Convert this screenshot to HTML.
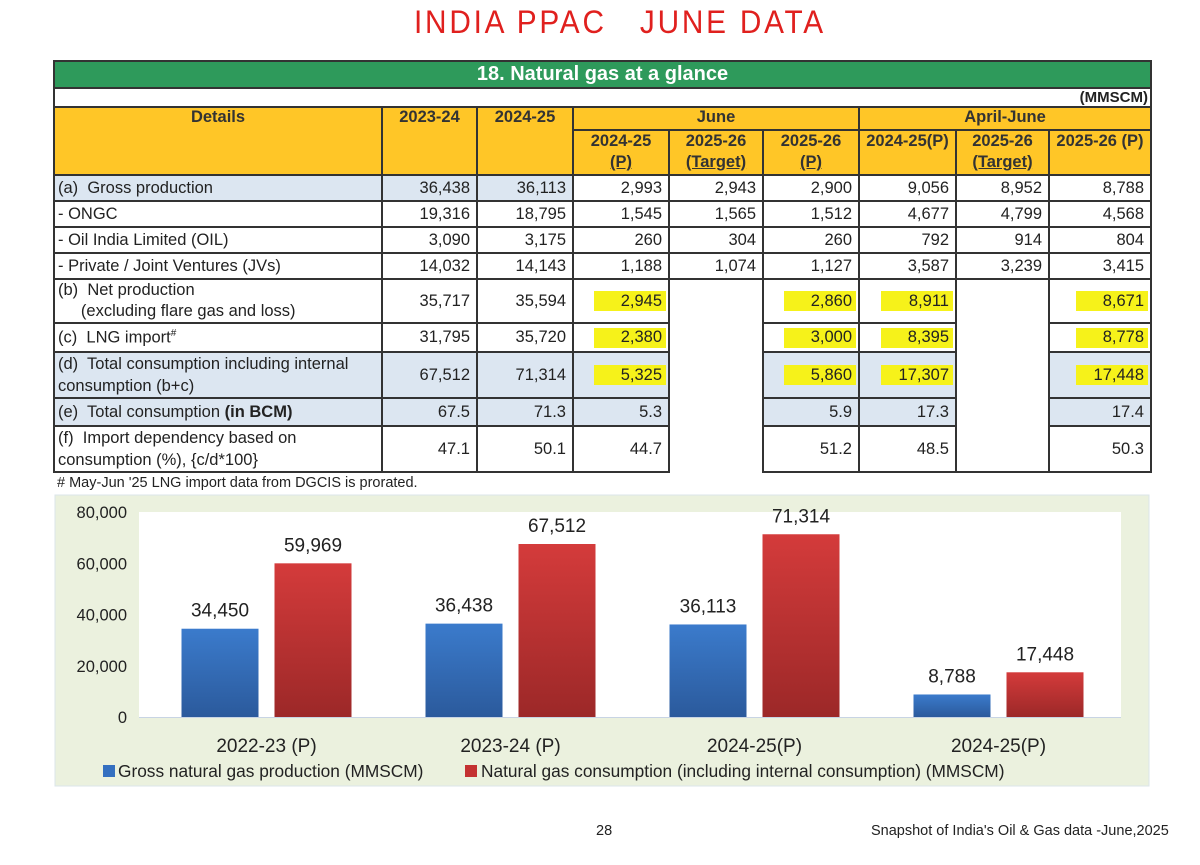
<!DOCTYPE html>
<html><head><meta charset="utf-8">
<style>
body{margin:0;width:1200px;height:865px;background:#fff;position:relative;overflow:hidden;font-family:"Liberation Sans",sans-serif;color:#222}
.hw{position:absolute;left:414px;top:4px;font-size:32px;color:#e0201e;letter-spacing:3px;font-weight:normal;transform:scaleX(0.93);transform-origin:left}
table{position:absolute;left:53px;top:60px;border-collapse:separate;border-spacing:0;table-layout:fixed;font-size:16.5px;border-left:2px solid #333;border-top:2px solid #333}
td{border-right:2px solid #333;border-bottom:2px solid #333;padding:0 6px;text-align:right;overflow:hidden;white-space:nowrap;box-sizing:border-box}
td.l{text-align:left;padding-left:3px}
.h{background:#ffc627;font-weight:bold;text-align:center;vertical-align:top;color:#333}
.sb{background:#dce6f1}
.nb{border-bottom:none}
.hl{background:linear-gradient(#f6f21a,#f6f21a) no-repeat right 2px center/72px 20px}
.hl.sb{background:#dce6f1 linear-gradient(#f6f21a,#f6f21a) no-repeat right 2px center/72px 20px}
.foot{position:absolute;font-size:14.5px;color:#222}
</style></head><body>
<div class="hw">INDIA PPAC &nbsp; JUNE DATA</div>
<table>
<colgroup><col style="width:328px"><col style="width:95px"><col style="width:96px"><col style="width:96px"><col style="width:94px"><col style="width:96px"><col style="width:97px"><col style="width:93px"><col style="width:102px"></colgroup>
<tr style="height:27px"><td colspan="9" style="background:#2e9a5b;color:#fff;font-weight:bold;font-size:20px;text-align:center">18. Natural gas at a glance</td></tr>
<tr style="height:18px"><td colspan="9" style="font-weight:bold;font-size:15px;vertical-align:bottom;padding-right:2px">(MMSCM)</td></tr>
<tr style="height:23px"><td class="h" rowspan="2">Details</td><td class="h" rowspan="2">2023-24</td><td class="h" rowspan="2">2024-25</td><td class="h" colspan="3">June</td><td class="h" colspan="3">April-June</td></tr>
<tr style="height:45px;line-height:21px"><td class="h">2024-25<br><u>(P)</u></td><td class="h">2025-26<br><u>(Target)</u></td><td class="h">2025-26<br><u>(P)</u></td><td class="h">2024-25(P)</td><td class="h">2025-26<br><u>(Target)</u></td><td class="h">2025-26 (P)</td></tr>
<tr style="height:26px"><td class="l sb">(a)&nbsp; Gross production</td><td class="sb">36,438</td><td class="sb">36,113</td><td>2,993</td><td>2,943</td><td>2,900</td><td>9,056</td><td>8,952</td><td>8,788</td></tr>
<tr style="height:26px"><td class="l">- ONGC</td><td>19,316</td><td>18,795</td><td>1,545</td><td>1,565</td><td>1,512</td><td>4,677</td><td>4,799</td><td>4,568</td></tr>
<tr style="height:26px"><td class="l">- Oil India Limited (OIL)</td><td>3,090</td><td>3,175</td><td>260</td><td>304</td><td>260</td><td>792</td><td>914</td><td>804</td></tr>
<tr style="height:26px"><td class="l">- Private / Joint Ventures (JVs)</td><td>14,032</td><td>14,143</td><td>1,188</td><td>1,074</td><td>1,127</td><td>3,587</td><td>3,239</td><td>3,415</td></tr>
<tr style="height:43px;line-height:21px"><td class="l">(b)&nbsp; Net production<br>&nbsp;&nbsp;&nbsp;&nbsp;&nbsp;(excluding flare gas and loss)</td><td>35,717</td><td>35,594</td><td class="hl">2,945</td><td class="nb"></td><td class="hl">2,860</td><td class="hl">8,911</td><td class="nb"></td><td class="hl">8,671</td></tr>
<tr style="height:29px"><td class="l">(c)&nbsp; LNG import<sup style="font-size:10px">#</sup></td><td>31,795</td><td>35,720</td><td class="hl">2,380</td><td class="nb"></td><td class="hl">3,000</td><td class="hl">8,395</td><td class="nb"></td><td class="hl">8,778</td></tr>
<tr style="height:46px;line-height:22px"><td class="l sb">(d)&nbsp; Total consumption including internal<br>consumption (b+c)</td><td class="sb">67,512</td><td class="sb">71,314</td><td class="sb hl">5,325</td><td class="nb"></td><td class="sb hl">5,860</td><td class="sb hl">17,307</td><td class="nb"></td><td class="sb hl">17,448</td></tr>
<tr style="height:28px"><td class="l sb">(e)&nbsp; Total consumption <b>(in BCM)</b></td><td class="sb">67.5</td><td class="sb">71.3</td><td class="sb">5.3</td><td class="nb"></td><td class="sb">5.9</td><td class="sb">17.3</td><td class="nb"></td><td class="sb">17.4</td></tr>
<tr style="height:46px;line-height:22px"><td class="l">(f)&nbsp; Import dependency based on<br>consumption (%), {c/d*100}</td><td>47.1</td><td>50.1</td><td>44.7</td><td class="nb"></td><td>51.2</td><td>48.5</td><td></td><td>50.3</td></tr>
</table>
<div class="foot" style="left:57px;top:475px"># May-Jun '25 LNG import data from DGCIS is prorated.</div>
<svg style="position:absolute;left:0;top:0" width="1200" height="865">
<defs>
<linearGradient id="gb" x1="0" y1="0" x2="0" y2="1"><stop offset="0" stop-color="#3b7bcc"/><stop offset="1" stop-color="#2b5a9c"/></linearGradient>
<linearGradient id="gr" x1="0" y1="0" x2="0" y2="1"><stop offset="0" stop-color="#d43b3b"/><stop offset="1" stop-color="#9c2828"/></linearGradient>
</defs>
<rect x="55" y="495" width="1094" height="291" fill="#ebf1de" stroke="#dbe5ea"/>
<rect x="139" y="512" width="982" height="205" fill="#fff"/>
<line x1="139" y1="717.5" x2="1121" y2="717.5" stroke="#c8d4e4"/>
<g id="g" font-family="Liberation Sans, sans-serif"></g>
<rect x="103" y="765" width="12" height="12" fill="#3470c0"/>
<text x="118" y="777" font-size="17.3" fill="#222" font-family="Liberation Sans, sans-serif">Gross natural gas production (MMSCM)</text>
<rect x="465" y="765" width="12" height="12" fill="#c43232"/>
<text x="481" y="777" font-size="17.3" fill="#222" font-family="Liberation Sans, sans-serif">Natural gas consumption (including internal consumption) (MMSCM)</text>
</svg>
<div class="foot" style="left:596px;top:823px">28</div>
<div class="foot" style="left:871px;top:823px">Snapshot of India's Oil &amp; Gas data -June,2025</div>
<script>
const categories=["2022-23 (P)","2023-24 (P)","2024-25(P)","2024-25(P)"];
const production=[34450,36438,36113,8788];
const consumption=[59969,67512,71314,17448];
const yTicks=[0,20000,40000,60000,80000];
const NS="http://www.w3.org/2000/svg";
const g=document.getElementById('g');
const y=v=>717-v/80000*205;
const x0=144.5,step=244;
const fmt=v=>v.toLocaleString('en-US');
function mk(t,a,txt){const e=document.createElementNS(NS,t);for(const k in a)e.setAttribute(k,a[k]);if(txt!=null)e.textContent=txt;g.appendChild(e);return e;}
yTicks.forEach(t=>{
 const e=mk('text',{x:127,y:y(t)+6,'text-anchor':'end','font-size':16.5,fill:'#222'},fmt(t));
 
 
});
categories.forEach((c,i)=>{
 const cx=x0+step*i+step/2;
 const e=mk('text',{x:cx,y:752,'text-anchor':'middle','font-size':19,fill:'#222'},c);
 
 
 [[production[i],'url(#gb)',cx-85],[consumption[i],'url(#gr)',cx+8]].forEach(([v,f,bx],j)=>{
  const b=mk('rect',{x:bx,y:y(v),width:77,height:717-y(v),fill:f});
  
  
  const l=mk('text',{x:bx+38.5,y:y(v)-12,'text-anchor':'middle','font-size':19,fill:'#222'},fmt(v));
  
  
 });
});
</script>
</body></html>
